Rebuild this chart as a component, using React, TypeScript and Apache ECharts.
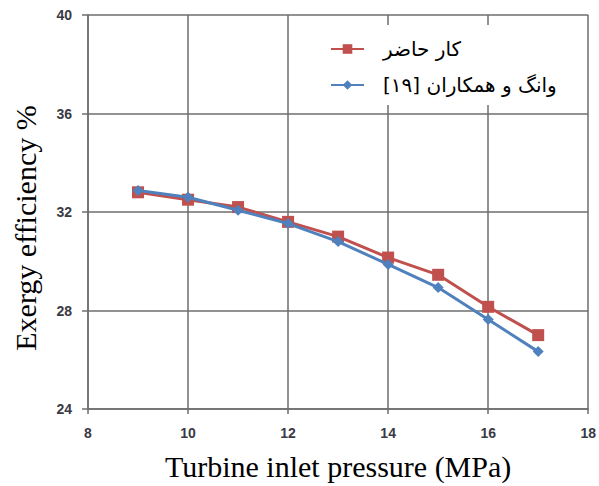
import React, { useEffect, useRef } from "react";
import * as echarts from "echarts";

const pressures = [9, 10, 11, 12, 13, 14, 15, 16, 17];
const presentWork = [32.8, 32.5, 32.2, 31.6, 31.0, 30.15, 29.45, 28.15, 27.0];
const wangEtAl = [32.87, 32.6, 32.07, 31.53, 30.8, 29.87, 28.93, 27.63, 26.33];
const seriesNames = ["\u200Fکار حاضر\u200F", "\u200Fوانگ و همکاران [۱۹]\u200F"];

const gridColor = "#6e6e6e";

export default function App() {
  const ref = useRef<HTMLDivElement>(null);
  useEffect(() => {
    if (!ref.current) return;
    const chart = echarts.init(ref.current, undefined, { renderer: "svg" });
    const tickLabel = {
      color: "#3a3a44",
      fontWeight: "bold" as const,
      fontSize: 14,
      fontFamily: "Liberation Sans",
    };
    chart.setOption({
      animation: false,
      backgroundColor: "#fff",
      grid: { left: 88, right: 7, top: 15, bottom: 73, containLabel: false },
      legend: {
        orient: "vertical",
        left: 302,
        top: 25,
        padding: [14, 27, 10, 28],
        backgroundColor: "#fff",
        itemWidth: 33,
        itemHeight: 12,
        itemGap: 16,
        align: "left",
        textStyle: {
          fontFamily: "DejaVu Sans",
          fontSize: 20,
          color: "#000",
          padding: [0, 0, 0, 14],
        },
        data: seriesNames,
      },
      xAxis: {
        type: "value",
        min: 8,
        max: 18,
        interval: 2,
        name: "Turbine inlet pressure (MPa)",
        nameLocation: "middle",
        nameGap: 42,
        nameTextStyle: { fontFamily: "Liberation Serif", fontSize: 30, color: "#000" },
        axisLine: { show: true, onZero: false, lineStyle: { color: gridColor, width: 1.5 } },
        axisTick: { show: true, length: 5, lineStyle: { color: gridColor, width: 1.5 } },
        axisLabel: { ...tickLabel, margin: 17 },
        splitLine: { show: true, lineStyle: { color: gridColor, width: 1.5 } },
      },
      yAxis: {
        type: "value",
        min: 24,
        max: 40,
        interval: 4,
        name: "Exergy efficiency %",
        nameLocation: "middle",
        nameGap: 48,
        nameRotate: 90,
        nameTextStyle: {
          fontFamily: "Liberation Serif",
          fontSize: 30,
          color: "#000",
          padding: [0, 32, 0, 0],
        },
        axisLine: { show: true, lineStyle: { color: gridColor, width: 1.5 } },
        axisTick: { show: true, length: 6, lineStyle: { color: gridColor, width: 1.5 } },
        axisLabel: { ...tickLabel, margin: 16 },
        splitLine: { show: true, lineStyle: { color: gridColor, width: 1.5 } },
      },
      series: [
        {
          name: seriesNames[0],
          type: "line",
          data: pressures.map((p, i) => [p, presentWork[i]]),
          symbol: "rect",
          symbolSize: 12,
          lineStyle: { color: "#C0504D", width: 3 },
          itemStyle: { color: "#C0504D" },
          z: 2,
        },
        {
          name: seriesNames[1],
          type: "line",
          data: pressures.map((p, i) => [p, wangEtAl[i]]),
          symbol: "diamond",
          symbolSize: 11,
          lineStyle: { color: "#4F81BD", width: 3 },
          itemStyle: { color: "#4F81BD" },
          z: 3,
        },
      ],
    });
    return () => chart.dispose();
  }, []);
  return (
    <div
      ref={ref}
      style={{ position: "fixed", left: 0, top: 0, width: 599, height: 486 }}
    />
  );
}
